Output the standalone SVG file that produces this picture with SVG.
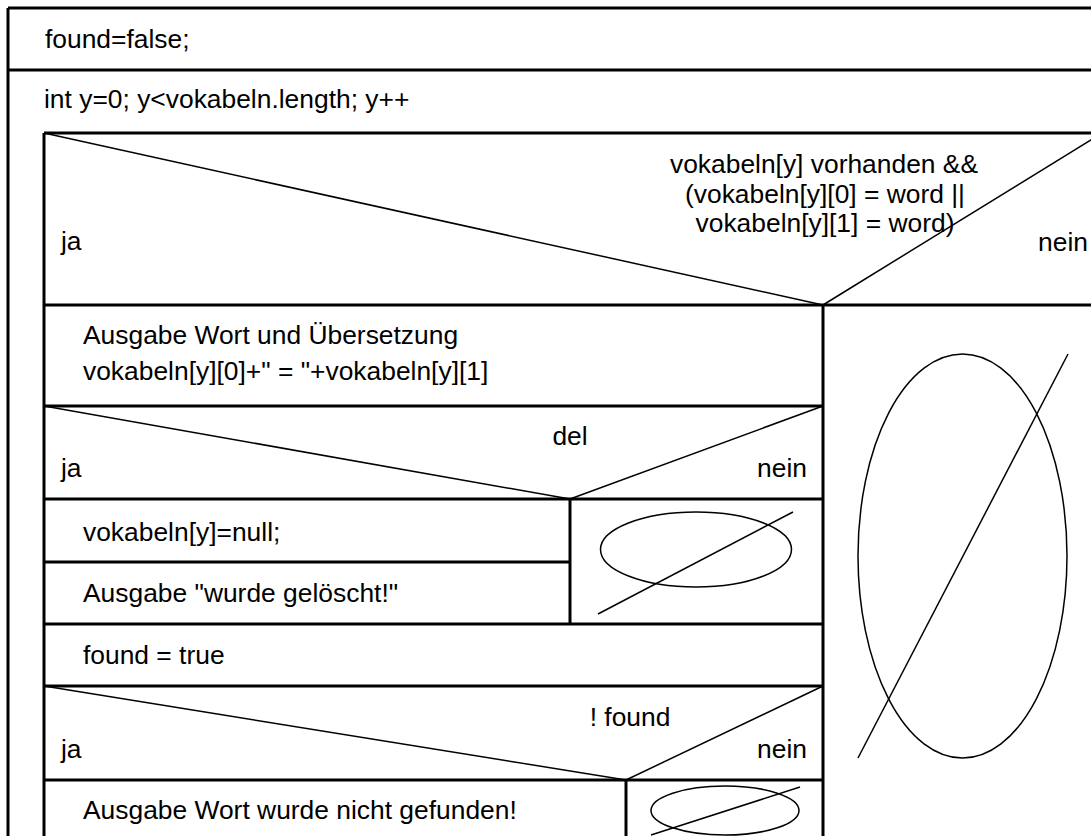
<svg xmlns="http://www.w3.org/2000/svg" width="1091" height="836" viewBox="0 0 1091 836">
  <style>
    .frame { fill: none; stroke: #000; stroke-width: 3; }
    .diag { fill: none; stroke: #000; stroke-width: 1.5; }
    .t { font-family: "Liberation Sans", Arial, sans-serif; font-size: 26.4px; fill: #000; }
    .mid { text-anchor: middle; }
    .end { text-anchor: end; }
  </style>
  <rect x="0" y="0" width="1091" height="836" fill="#fff"/>

  <!-- Nassi-Shneiderman structogram: search a word in the vocabulary table -->
  <g id="init">
    <line class="frame" x1="8" y1="8" x2="1091" y2="8"/>
    <line class="frame" x1="8" y1="8" x2="8" y2="836"/>
    <line class="frame" x1="8" y1="70" x2="1091" y2="70"/>
    <text class="t" x="45" y="48">found=false;</text>
  </g>

  <g id="loop">
    <text class="t" x="44" y="108">int y=0; y&lt;vokabeln.length; y++</text>
    <line class="frame" x1="44" y1="133" x2="1091" y2="133"/>
    <line class="frame" x1="44" y1="133" x2="44" y2="836"/>
  </g>

  <g id="cond-found">
    <line class="frame" x1="44" y1="305" x2="1091" y2="305"/>
    <line class="diag" x1="44" y1="133" x2="823" y2="305"/>
    <line class="diag" x1="823" y1="305" x2="1102" y2="133"/>
    <text class="t mid" x="824" y="173">vokabeln[y] vorhanden &amp;&amp;</text>
    <text class="t mid" x="825" y="203">(vokabeln[y][0] = word ||</text>
    <text class="t mid" x="825" y="232">vokabeln[y][1] = word)</text>
    <text class="t" x="61" y="250">ja</text>
    <text class="t end" x="1088" y="251">nein</text>
    <line class="frame" x1="823" y1="305" x2="823" y2="836"/>
  </g>

  <g id="empty-else-found">
    <ellipse class="diag" cx="962.5" cy="556" rx="104.5" ry="202"/>
    <line class="diag" x1="858" y1="758" x2="1068" y2="354"/>
  </g>

  <g id="print-translation">
    <text class="t" x="83" y="344">Ausgabe Wort und Übersetzung</text>
    <text class="t" x="83" y="380">vokabeln[y][0]+" = "+vokabeln[y][1]</text>
    <line class="frame" x1="44" y1="406" x2="823" y2="406"/>
  </g>

  <g id="cond-del">
    <line class="diag" x1="44" y1="406" x2="570" y2="499"/>
    <line class="diag" x1="570" y1="499" x2="823" y2="406"/>
    <text class="t mid" x="570" y="445">del</text>
    <text class="t" x="61" y="477">ja</text>
    <text class="t end" x="807" y="477">nein</text>
    <line class="frame" x1="44" y1="499" x2="823" y2="499"/>
    <line class="frame" x1="570" y1="499" x2="570" y2="624"/>
  </g>

  <g id="delete-entry">
    <text class="t" x="83" y="541">vokabeln[y]=null;</text>
    <line class="frame" x1="44" y1="562" x2="570" y2="562"/>
  </g>

  <g id="print-deleted">
    <text class="t" x="83" y="602">Ausgabe "wurde gelöscht!"</text>
    <line class="frame" x1="44" y1="624" x2="823" y2="624"/>
  </g>

  <g id="empty-else-del">
    <ellipse class="diag" cx="696" cy="549.5" rx="95.5" ry="37.5"/>
    <line class="diag" x1="598" y1="614" x2="793" y2="512"/>
  </g>

  <g id="set-found">
    <text class="t" x="83" y="664">found = true</text>
    <line class="frame" x1="44" y1="686" x2="823" y2="686"/>
  </g>

  <g id="cond-not-found">
    <line class="diag" x1="44" y1="686" x2="626" y2="780"/>
    <line class="diag" x1="626" y1="780" x2="823" y2="686"/>
    <text class="t mid" x="630" y="726">! found</text>
    <text class="t" x="61" y="758">ja</text>
    <text class="t end" x="807" y="758">nein</text>
    <line class="frame" x1="44" y1="780" x2="823" y2="780"/>
    <line class="frame" x1="626" y1="780" x2="626" y2="836"/>
  </g>

  <g id="print-not-found">
    <text class="t" x="83" y="819">Ausgabe Wort wurde nicht gefunden!</text>
  </g>

  <g id="empty-else-not-found">
    <ellipse class="diag" cx="725" cy="810.5" rx="74" ry="24.5"/>
    <line class="diag" x1="651" y1="835" x2="800" y2="787"/>
  </g>

  <g id="connectors"/>
</svg>
